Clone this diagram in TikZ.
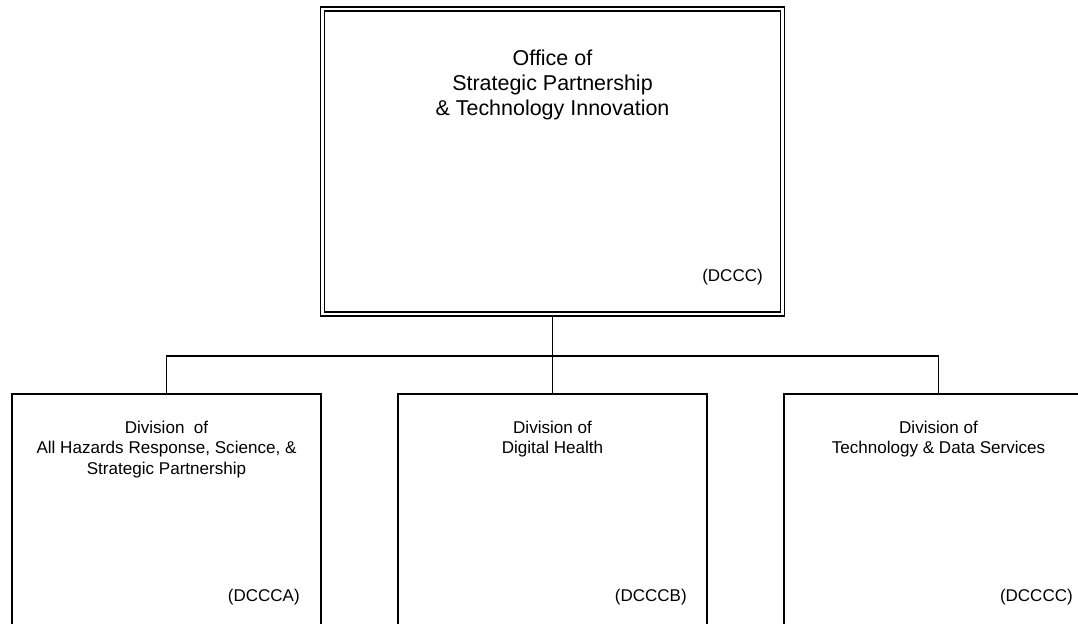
\documentclass[tikz,border=0pt]{standalone}
\usepackage{fontspec}
\setmainfont{Liberation Sans}
\begin{document}
\begin{tikzpicture}[x=0.75pt,y=-0.75pt,
  topbox/.style={draw, line width=1.1pt, double, double distance=2pt, minimum width=345pt, minimum height=228.75pt, inner sep=0pt},
  divbox/.style={draw, line width=1.4pt, minimum width=231.75pt, minimum height=300pt, inner sep=0pt},
  conn/.style={line width=1.4pt},
  title/.style={align=center, font=\fontsize{16.1pt}{18.75pt}\selectfont, inner sep=0pt},
  divtitle/.style={align=center, font=\fontsize{12.8pt}{15.4pt}\selectfont, inner sep=0pt},
  code/.style={anchor=east, font=\fontsize{12.75pt}{15pt}\selectfont, inner sep=0pt}]
\useasboundingbox (0,0) rectangle (1078,624);
\clip (0,0) rectangle (1078,624);
\node[topbox] (top) at (552.5,161.5) {};
\node[divbox] (a) at (166.5,594) {};
\node[divbox] (b) at (552.5,594) {};
\node[divbox] (c) at (938.5,594) {};
\coordinate (bus) at (552.5,356);
\draw[conn] (top.south) -- (bus);
\draw[conn] (a.north) |- (bus) -| (c.north);
\draw[conn] (b.north) -- (bus);
\node[title] (toptext) at (552.5,85) {Office of\\Strategic Partnership\\\& Technology Innovation};
\node[code] (topcode) at (763,277) {(DCCC)};
\node[divtitle] (atext) at (166.5,449.5) {Division~\ of\\All Hazards Response, Science, \&\\Strategic Partnership};
\node[divtitle] (btext) at (552.5,439) {Division of\\Digital Health};
\node[divtitle] (ctext) at (938.5,439) {Division of\\Technology \& Data Services};
\node[code] (acode) at (300,597) {(DCCCA)};
\node[code] (bcode) at (687,597) {(DCCCB)};
\node[code] (ccode) at (1073,597) {(DCCCC)};
\end{tikzpicture}
\end{document}
